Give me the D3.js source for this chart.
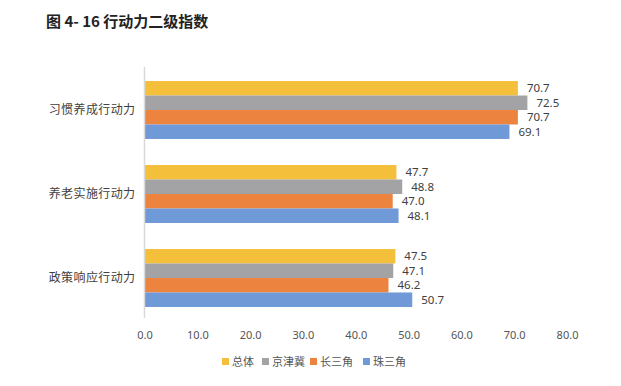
<!DOCTYPE html>
<html>
<head>
<meta charset="utf-8">
<script src="https://cdn.jsdelivr.net/npm/d3@7"></script>
<style>
  body { margin: 0; background: #fff; }
  text { font-family: "Noto Sans CJK SC", "Noto Sans", sans-serif; }
</style>
</head>
<body>
<div id="chart-holder"></div>
<script>
// ****DATA****
const categories = ['习惯养成行动力', '养老实施行动力', '政策响应行动力'];
const seriesNames = ['总体', '京津冀', '长三角', '珠三角'];
const zongti = [70.7, 47.7, 47.5];
const jingjinji = [72.5, 48.8, 47.1];
const changsanjiao = [70.7, 47.0, 46.2];
const zhusanjiao = [69.1, 48.1, 50.7];
const xTicks = [0, 10, 20, 30, 40, 50, 60, 70, 80];

const seriesValues = [zongti, jingjinji, changsanjiao, zhusanjiao];
const colors = ['#F4BF3A', '#A3A3A6', '#EC8440', '#7099D8'];

// ****CANVAS****
const width = 621;
const height = 386;
const svg = d3.select('#chart-holder')
    .append('svg')
    .attr('width', width)
    .attr('height', height);

// title
svg.append('text')
    .attr('x', 46)
    .attr('y', 27)
    .style('font-weight', 'bold')
    .style('font-size', '15px')
    .attr('fill', '#222')
    .text('图 4- 16 行动力二级指数');

// ****SCALES****
const xScale = d3.scaleLinear().domain([0, 80]).range([144.5, 567]);
const yScale = d3.scaleBand().domain(categories).range([68, 320]).paddingInner(0.31).paddingOuter(0.155);
const ySub = d3.scaleBand().domain(seriesNames).range([0, yScale.bandwidth()]);

// x axis tick labels (no line)
const xAxis = svg.append('g')
    .attr('transform', 'translate(0, 328)')
    .call(d3.axisBottom(xScale).tickValues(xTicks).tickFormat(d3.format('.1f')).tickSize(0));
xAxis.select('.domain').remove();
xAxis.selectAll('text')
    .style('font-size', '11px')
    .style('font-family', '"Noto Sans", sans-serif')
    .attr('fill', '#555');

// category axis
const yAxis = svg.append('g')
    .attr('transform', 'translate(144.5, 0)')
    .call(d3.axisLeft(yScale).tickSize(0).tickPadding(9));
yAxis.select('.domain').remove();
yAxis.selectAll('text')
    .style('font-size', '12px')
    .style('letter-spacing', '0.4px')
    .attr('fill', '#404040');

// ****BARS****
const groups = svg.append('g').selectAll('g')
    .data(categories)
    .join('g')
    .attr('transform', d => `translate(0, ${yScale(d)})`);

groups.selectAll('rect')
    .data((c, i) => seriesNames.map((s, j) => ({ s: s, v: seriesValues[j][i], j: j })))
    .join('rect')
    .attr('x', xScale(0))
    .attr('y', d => ySub(d.s))
    .attr('height', ySub.bandwidth())
    .attr('width', d => xScale(d.v) - xScale(0))
    .attr('fill', d => colors[d.j]);

groups.selectAll('text')
    .data((c, i) => seriesNames.map((s, j) => ({ s: s, v: seriesValues[j][i], j: j })))
    .join('text')
    .attr('x', d => xScale(d.v) + 9)
    .attr('y', d => ySub(d.s) + ySub.bandwidth() / 2)
    .attr('dy', '0.35em')
    .style('font-size', '11.5px')
    .style('font-family', '"Noto Sans", sans-serif')
    .attr('fill', '#404040')
    .text(d => d.v.toFixed(1));

// vertical axis line
svg.append('line')
    .attr('x1', 144.5).attr('x2', 144.5)
    .attr('y1', 67).attr('y2', 318)
    .attr('stroke', '#d9d9d9')
    .attr('stroke-width', 1.5);

// ****LEGEND****
const legendX = [222, 262, 310, 363];
const legend = svg.append('g').selectAll('g')
    .data(seriesNames)
    .join('g')
    .attr('transform', (d, i) => `translate(${legendX[i]}, 362)`);
legend.append('rect')
    .attr('x', 0).attr('y', -4)
    .attr('width', 7).attr('height', 7)
    .attr('fill', (d, i) => colors[i]);
legend.append('text')
    .attr('x', 10).attr('y', 0)
    .attr('dy', '0.35em')
    .style('font-size', '11px')
    .attr('fill', '#555')
    .text(d => d);
</script>
</body>
</html>
